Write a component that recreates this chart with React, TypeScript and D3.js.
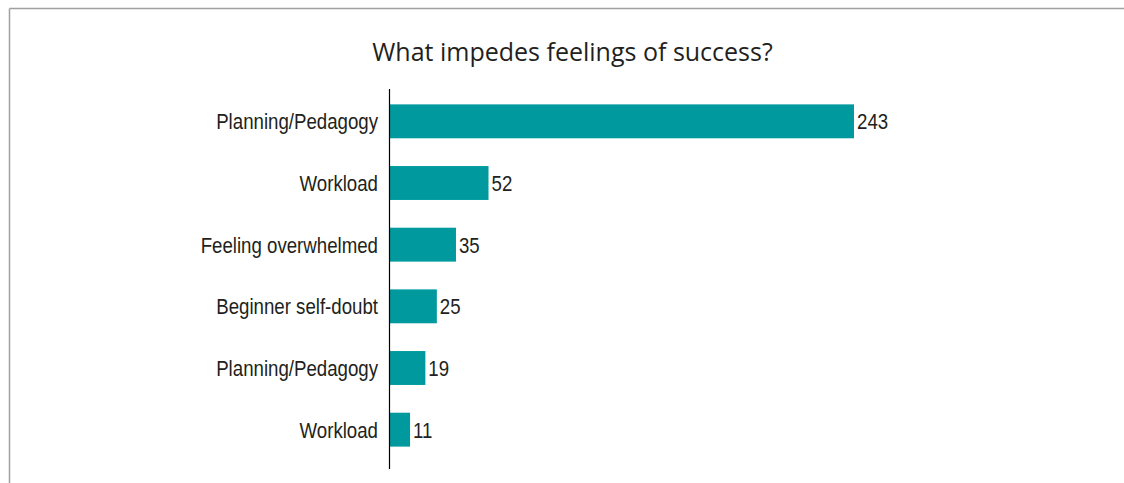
import React from "react";
import * as d3 from "d3";

const title = "What impedes feelings of success?";
const categories = [
  "Planning/Pedagogy",
  "Workload",
  "Feeling overwhelmed",
  "Beginner self-doubt",
  "Planning/Pedagogy",
  "Workload",
];
const values = [243, 52, 35, 25, 19, 11];

const W = 1124;
const H = 483;
const barColor = "#00999e";
const textColor = "#231f20";
const labelFont = '"Liberation Sans", Arial, sans-serif';
const squeeze = 0.83;

export default function App() {
  const axisX = 389;
  const x = d3.scaleLinear().domain([0, d3.max(values) as number]).range([axisX, 854]);
  const y = d3
    .scaleBand<number>()
    .domain(values.map((_, i) => i))
    .range([90.5, 460.5])
    .paddingInner(0.45)
    .paddingOuter(0.225);

  return (
    <div style={{ position: "absolute", left: 0, top: 0 }}>
      <svg width={W} height={H} style={{ display: "block", background: "#fff" }}>
        <line x1={9.5} x2={W} y1={8.5} y2={8.5} stroke="#a0a0a0" strokeWidth={1.5} />
        <line x1={9.5} x2={9.5} y1={8.5} y2={H} stroke="#a0a0a0" strokeWidth={1.5} />
        <text
          x={572.5}
          y={61}
          textAnchor="middle"
          fill={textColor}
          style={{ fontFamily: '"Open Sans", sans-serif', fontSize: 25 }}
        >
          {title}
        </text>
        {values.map((v, i) => {
          const y0 = y(i) as number;
          const bh = y.bandwidth();
          const cy = y0 + bh / 2;
          return (
            <g key={i}>
              <rect x={x(0)} y={y0} width={x(v) - x(0)} height={bh} fill={barColor} />
              <text
                transform={`translate(${axisX - 11},${cy}) scale(${squeeze},1)`}
                dy="0.36em"
                textAnchor="end"
                fill={textColor}
                style={{ fontFamily: labelFont, fontSize: 22.5 }}
              >
                {categories[i]}
              </text>
              <text
                transform={`translate(${x(v) + 3},${cy}) scale(${squeeze},1)`}
                dy="0.36em"
                textAnchor="start"
                fill={textColor}
                style={{ fontFamily: labelFont, fontSize: 22.5 }}
              >
                {v}
              </text>
            </g>
          );
        })}
        <line x1={axisX + 0.5} x2={axisX + 0.5} y1={89} y2={469} stroke="#000" strokeWidth={1.2} />
      </svg>
    </div>
  );
}
